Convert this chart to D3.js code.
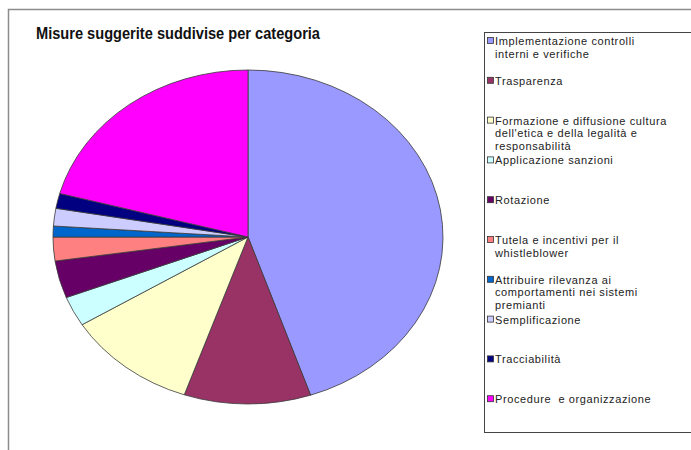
<!DOCTYPE html>
<meta charset="utf-8">
<script src="https://cdn.jsdelivr.net/npm/d3@7"></script>
<style>
body { margin: 0; background: #fff; }
text { font-family: "Liberation Sans", Arial, sans-serif; }
</style>
<body>
<script>

// categories (legend lines) (percent), colours
var categories = [
  ["Implementazione controlli", "interni e verifiche"],
  ["Trasparenza"],
  ["Formazione e diffusione cultura", "dell'etica e della legalità e", "responsabilità"],
  ["Applicazione sanzioni"],
  ["Rotazione"],
  ["Tutela e incentivi per il", "whistleblower"],
  ["Attribuire rilevanza ai", "comportamenti nei sistemi", "premianti"],
  ["Semplificazione"],
  ["Tracciabilità"],
  ["Procedure  e organizzazione"]
];
var values = [44.8, 10.5, 10.9, 2.9, 3.6, 2.3, 1.05, 1.7, 1.45, 20.8];
var colors = ["#9999ff", "#993366", "#ffffcc", "#ccffff", "#660066",
              "#ff8080", "#0066cc", "#ccccff", "#000080", "#ff00ff"];
var title = "Misure suggerite suddivise per categoria";

var width = 691, height = 450;
var svg = d3.select("body").append("svg")
    .attr("width", width)
    .attr("height", height);

// outer chart frame (only top and left edges are visible)
svg.append("path")
    .attr("d", "M8.5,450 V9.5 H691")
    .attr("fill", "none")
    .attr("stroke", "#8c8c8c")
    .attr("stroke-width", 1.5);

svg.append("text")
    .attr("x", 36)
    .attr("y", 39)
    .attr("font-size", "16px")
    .attr("font-weight", "bold")
    .attr("fill", "#111")
    .attr("textLength", 284)
    .attr("lengthAdjust", "spacingAndGlyphs")
    .text(title);

// the pie is drawn as a circle and stretched into an ellipse
var cx = 248, cy = 237, rx = 195, ry = 167;
var pie = d3.pie().sort(null).value(function(d) { return d; });
var arc = d3.arc().innerRadius(0).outerRadius(ry);

var g = svg.append("g")
    .attr("transform", "translate(" + cx + "," + cy + ") scale(" + (rx / ry) + ",1)");

g.selectAll("path")
    .data(pie(values))
    .enter().append("path")
      .attr("d", arc)
      .attr("fill", function(d, i) { return colors[i]; })
      .attr("stroke", "#3a3a3a")
      .attr("stroke-width", 0.8)
      .attr("vector-effect", "non-scaling-stroke");

// legend box
svg.append("rect")
    .attr("x", 484.5)
    .attr("y", 32.5)
    .attr("width", 230)
    .attr("height", 400)
    .attr("fill", "#fff")
    .attr("stroke", "#444")
    .attr("stroke-width", 1);

var legend = svg.selectAll(".legend")
    .data(categories)
    .enter().append("g")
      .attr("class", "legend")
      .attr("transform", function(d, i) { return "translate(487," + (41 + i * 39.8) + ")"; });

legend.append("rect")
    .attr("x", 0.5)
    .attr("y", -3.5)
    .attr("width", 6)
    .attr("height", 6)
    .attr("fill", function(d, i) { return colors[i]; })
    .attr("stroke", "#333")
    .attr("stroke-width", 0.8);

legend.append("text")
    .attr("font-size", "11px")
    .attr("letter-spacing", "0.6px")
    .attr("fill", "#222")
    .selectAll("tspan")
    .data(function(d) { return d; })
    .enter().append("tspan")
      .attr("x", 8)
      .attr("y", function(d, j) { return 4 + j * 12.5; })
      .attr("xml:space", "preserve")
      .text(function(d) { return d; });

</script>
</body>
</html>
